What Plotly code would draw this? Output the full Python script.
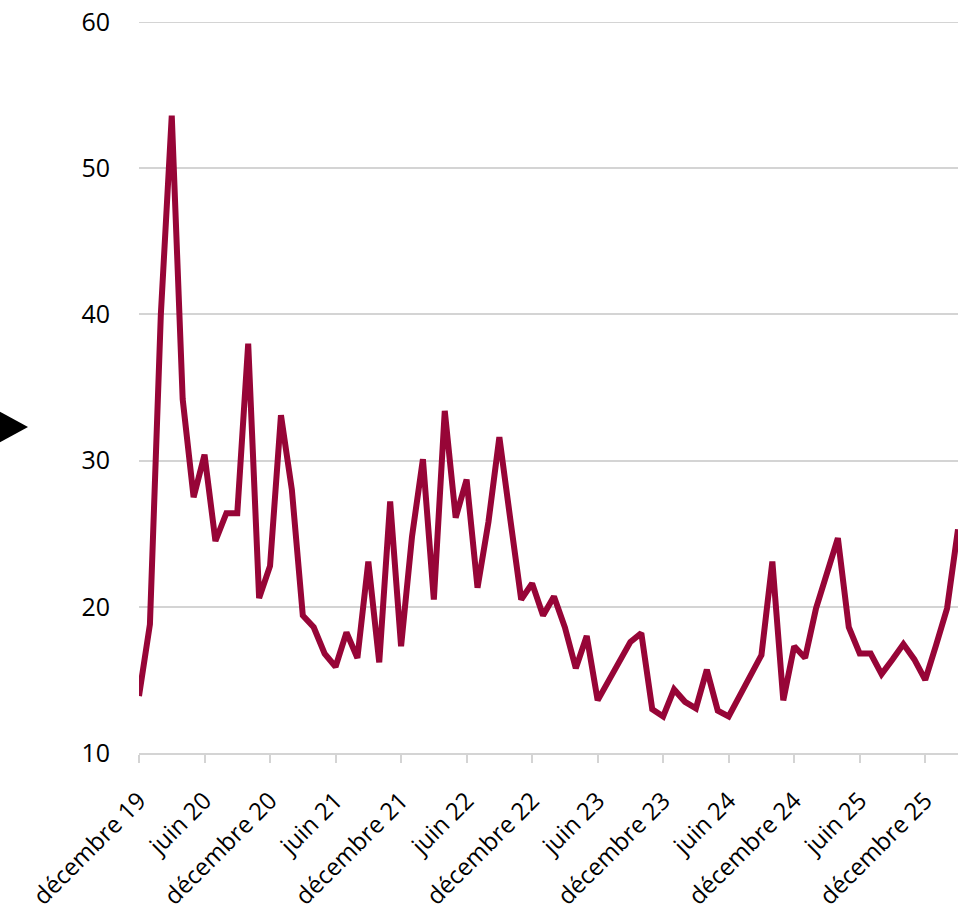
import plotly.graph_objects as go

months = [
    "2019-12",
    "2020-01", "2020-02", "2020-03", "2020-04", "2020-05", "2020-06",
    "2020-07", "2020-08", "2020-09", "2020-10", "2020-11", "2020-12",
    "2021-01", "2021-02", "2021-03", "2021-04", "2021-05", "2021-06",
    "2021-07", "2021-08", "2021-09", "2021-10", "2021-11", "2021-12",
    "2022-01", "2022-02", "2022-03", "2022-04", "2022-05", "2022-06",
    "2022-07", "2022-08", "2022-09", "2022-10", "2022-11", "2022-12",
    "2023-01", "2023-02", "2023-03", "2023-04", "2023-05", "2023-06",
    "2023-07", "2023-08", "2023-09", "2023-10", "2023-11", "2023-12",
    "2024-01", "2024-02", "2024-03", "2024-04", "2024-05", "2024-06",
    "2024-07", "2024-08", "2024-09", "2024-10", "2024-11", "2024-12",
    "2025-01", "2025-02", "2025-03", "2025-04", "2025-05", "2025-06",
    "2025-07", "2025-08", "2025-09", "2025-10", "2025-11", "2025-12",
    "2026-01", "2026-02", "2026-03",
]

values = [
    13.9,
    18.8, 40.0, 53.6, 34.2, 27.5, 30.4,
    24.5, 26.4, 26.4, 38.0, 20.6, 22.8,
    33.1, 28.0, 19.4, 18.6, 16.8, 15.9,
    18.25, 16.5, 23.1, 16.2, 27.2, 17.3,
    24.8, 30.1, 20.5, 33.4, 26.1, 28.7,
    21.3, 25.8, 31.6, 26.0, 20.5, 21.6,
    19.4, 20.7, 18.6, 15.8, 18.0, 13.6,
    15.0, 16.3, 17.6, 18.2, 13.0, 12.5,
    14.35, 13.5, 13.05, 15.7, 12.9, 12.5,
    13.9, 15.3, 16.7, 23.1, 13.6, 17.3,
    16.5, 19.9, 22.3, 24.7, 18.6, 16.8,
    16.8, 15.4, 16.4, 17.45, 16.4, 15.0,
    17.4, 19.9, 25.3,
]

tick_months = ["2019-12", "2020-06", "2020-12", "2021-06", "2021-12", "2022-06",
               "2022-12", "2023-06", "2023-12", "2024-06", "2024-12", "2025-06",
               "2025-12"]
tick_labels = ["décembre 19", "juin 20", "décembre 20", "juin 21", "décembre 21",
               "juin 22", "décembre 22", "juin 23", "décembre 23", "juin 24",
               "décembre 24", "juin 25", "décembre 25"]

y_ticks = [10, 20, 30, 40, 50, 60]

W, H = 973, 911
L, R, T, B = 139, 15, 22, 158
pw, ph = W - L - R, H - T - B
GRID = "#d4d4d4"

fig = go.Figure()
fig.add_trace(go.Scatter(
    x=months, y=values, mode="lines",
    line=dict(color="#970537", width=6),
    hoverinfo="x+y",
))

FONT = "Open Sans"
fig.update_layout(
    width=W, height=H,
    margin=dict(l=L, r=R, t=T, b=B, pad=0),
    paper_bgcolor="white", plot_bgcolor="white",
    showlegend=False,
    font=dict(family=FONT, size=24, color="#000000"),
    xaxis=dict(
        type="category",
        categoryorder="array", categoryarray=months,
        range=[0, len(months) - 1],
        automargin=False,
        tickmode="array", tickvals=tick_months, ticktext=tick_labels,
        tickangle=-45,
        ticks="outside", ticklen=8, tickwidth=2, tickcolor=GRID,
        ticklabelstandoff=14,
        showline=True, linecolor=GRID, linewidth=2,
        showgrid=False, zeroline=False,
        tickfont=dict(family=FONT, size=24, color="#000000"),
    ),
    yaxis=dict(
        range=[10, 60],
        automargin=False,
        tickmode="array", tickvals=y_ticks,
        showgrid=True, gridcolor=GRID, gridwidth=2,
        zeroline=False, showline=False, ticks="",
        ticklabelstandoff=28,
        tickfont=dict(family=FONT, size=25, color="#000000"),
    ),
)

# top gridline (plotly hides the gridline lying on the plot edge)
fig.add_shape(type="line", xref="paper", yref="y", x0=0, x1=1,
              y0=y_ticks[-1], y1=y_ticks[-1], layer="below",
              line=dict(color=GRID, width=2))

# black pointer triangle on the left margin (pixel -> paper coords)
def px(x):
    return (x - L) / pw

def py(y):
    return (H - B - y) / ph

path = "M {:.4f},{:.4f} L {:.4f},{:.4f} L {:.4f},{:.4f} Z".format(
    px(-3), py(410), px(28), py(427), px(-3), py(444))
fig.add_shape(type="path", xref="paper", yref="paper", path=path,
              fillcolor="#000000", line=dict(color="#000000", width=0))

fig.write_html("out.html")
